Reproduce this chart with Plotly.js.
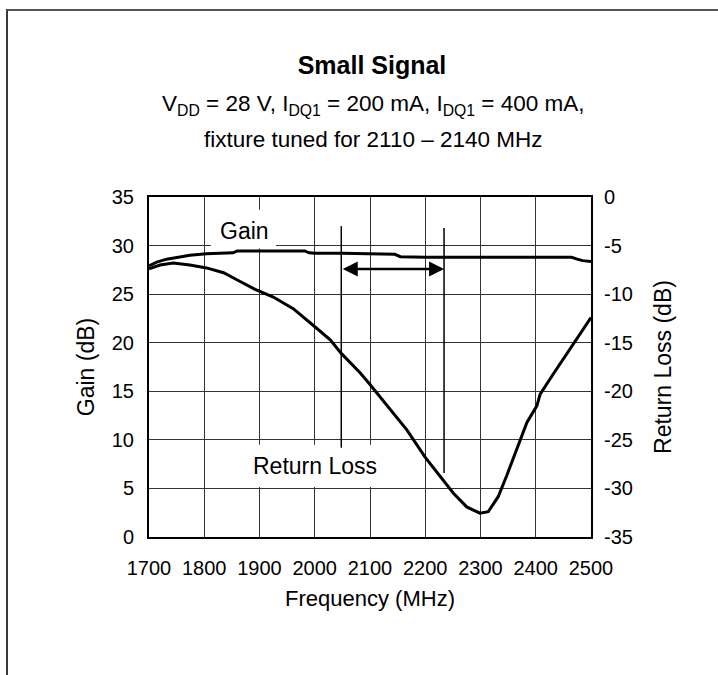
<!DOCTYPE html>
<html>
<head>
<meta charset="utf-8">
<script src="https://cdn.plot.ly/plotly-3.0.1.min.js"></script>
<style>
  html, body { margin: 0; padding: 0; background: #fff; overflow: hidden; }
  #wrap { position: relative; width: 718px; height: 675px; }
  #chart { position: absolute; left: 0; top: 0; width: 718px; height: 675px; }
  #frame { position: absolute; left: 6px; top: 9px; width: 900px; height: 900px;
           border-left: 2px solid #3a3a3a; border-top: 2px solid #555; pointer-events: none; }
</style>
</head>
<body>
<div id="wrap">
  <div id="chart"></div>
  <div id="frame"></div>
</div>
<script>
// ---- data ----
const freqGain = [1700, 1714, 1732, 1756, 1774, 1804, 1830, 1852, 1860, 1900, 1950, 1982, 1990, 2000, 2050, 2100, 2145, 2155, 2200, 2300, 2400, 2465, 2475, 2485, 2500];
const gainDb   = [27.9, 28.3, 28.6, 28.8, 29.0, 29.15, 29.2, 29.25, 29.45, 29.45, 29.45, 29.45, 29.25, 29.2, 29.2, 29.15, 29.1, 28.85, 28.8, 28.8, 28.8, 28.8, 28.6, 28.45, 28.35];

const freqRL = [1700, 1720, 1744, 1774, 1804, 1835, 1865, 1892, 1925, 1961, 1997, 2028, 2048, 2082, 2100, 2136, 2167, 2200, 2227, 2251, 2275, 2299, 2314, 2332, 2347, 2371, 2384, 2402, 2408, 2432, 2450, 2468, 2480, 2500];
const returnLossDb = [-7.4, -7.0, -6.8, -7.0, -7.3, -7.8, -8.7, -9.5, -10.3, -11.5, -13.2, -14.7, -16.1, -18.1, -19.3, -21.8, -24.0, -26.8, -28.75, -30.5, -31.9, -32.55, -32.4, -30.85, -28.75, -25.2, -23.2, -21.5, -20.3, -18.2, -16.7, -15.1, -14.2, -12.4];

// band marker lines (frequency, top gain, bottom gain) and arrow level
const markerFreq   = [2048, 2234];
const markerTop    = [32.0, 31.8];
const markerBottom = [9.2, 6.6];
const arrowLevel   = 27.6;

const xTicks  = [1700, 1800, 1900, 2000, 2100, 2200, 2300, 2400, 2500];
const yTicks  = [0, 5, 10, 15, 20, 25, 30, 35];
const y2Ticks = [-35, -30, -25, -20, -15, -10, -5, 0];

const FONT = "Liberation Sans, Arial, Helvetica, sans-serif";

const traces = [
  { x: freqGain, y: gainDb, type: 'scatter', mode: 'lines', name: 'Gain',
    line: { color: '#000', width: 3 }, hoverinfo: 'x+y' },
  { x: freqRL, y: returnLossDb, type: 'scatter', mode: 'lines', name: 'Return Loss',
    yaxis: 'y2', line: { color: '#000', width: 3 }, hoverinfo: 'x+y' }
];
markerFreq.forEach((f, i) => {
  traces.push({ x: [f, f], y: [markerTop[i], markerBottom[i]], type: 'scatter', mode: 'lines',
    line: { color: '#000', width: 1.5 }, hoverinfo: 'skip', showlegend: false });
});

const axisCommon = {
  showline: true, linecolor: '#000', linewidth: 2, mirror: true,
  ticks: '', zeroline: false,
  tickfont: { family: FONT, size: 20, color: '#000' }
};

const layout = {
  width: 718, height: 675,
  margin: { l: 149, r: 127, t: 197, b: 138 },
  paper_bgcolor: '#fff', plot_bgcolor: '#fff',
  showlegend: false,
  font: { family: FONT, color: '#000' },
  title: { text: '<b>Small Signal</b>', x: 372 / 718, xanchor: 'center', xref: 'container',
           y: 1 - 65 / 675, yanchor: 'middle', yref: 'container',
           font: { family: FONT, size: 25, color: '#000' } },
  xaxis: Object.assign({}, axisCommon, {
    range: [1700, 2500], tickvals: xTicks, ticktext: xTicks.map(String),
    showgrid: true, gridcolor: '#333', gridwidth: 1,
    ticklabelstandoff: 12,
    title: { text: 'Frequency (MHz)', standoff: 13, font: { family: FONT, size: 22, color: '#000' } }
  }),
  yaxis: Object.assign({}, axisCommon, {
    range: [0, 35], tickvals: yTicks, ticktext: yTicks.map(String),
    showgrid: true, gridcolor: '#333', gridwidth: 1,
    ticklabelstandoff: 9,
    title: { text: 'Gain (dB)', standoff: 11, font: { family: FONT, size: 23, color: '#000' } }
  }),
  yaxis2: Object.assign({}, axisCommon, {
    overlaying: 'y', side: 'right',
    range: [-35, 0], tickvals: y2Ticks, ticktext: y2Ticks.map(String),
    showgrid: false, showline: false,
    ticklabelstandoff: 12,
    title: { text: 'Return Loss (dB)', standoff: 22, font: { family: FONT, size: 23, color: '#000' } }
  }),
  shapes: [
    { type: 'rect', xref: 'x', yref: 'y', layer: 'between',
      x0: 1812, x1: 1930, y0: 29.7, y1: 33.7, fillcolor: '#fff', line: { width: 0 } },
    { type: 'rect', xref: 'x', yref: 'y', layer: 'between',
      x0: 1878, x1: 2130, y0: 5.15, y1: 9.5, fillcolor: '#fff', line: { width: 0 } }
  ],
  annotations: [
    { text: 'V<sub>DD</sub> = 28 V, I<sub>DQ1</sub> = 200 mA, I<sub>DQ1</sub> = 400 mA,',
      xref: 'paper', yref: 'paper', x: (373 - 149) / 442, y: (537 - 105.3) / 340,
      xanchor: 'center', yanchor: 'middle', showarrow: false,
      font: { family: FONT, size: 22.5, color: '#000' } },
    { text: 'fixture tuned for 2110 \u2013 2140 MHz',
      xref: 'paper', yref: 'paper', x: (373 - 149) / 442, y: (537 - 139.3) / 340,
      xanchor: 'center', yanchor: 'middle', showarrow: false,
      font: { family: FONT, size: 22.5, color: '#000' } },
    { text: 'Gain', xref: 'x', yref: 'y', x: 1872, y: 31.5,
      xanchor: 'center', yanchor: 'middle', showarrow: false,
      font: { family: FONT, size: 23, color: '#000' } },
    { text: 'Return Loss', xref: 'x', yref: 'y', x: 2001, y: 7.3,
      xanchor: 'center', yanchor: 'middle', showarrow: false,
      font: { family: FONT, size: 23, color: '#000' } },
    { text: '', xref: 'x', yref: 'y', x: markerFreq[1], y: arrowLevel,
      axref: 'x', ayref: 'y', ax: markerFreq[0], ay: arrowLevel,
      showarrow: true, arrowside: 'end+start', arrowhead: 2, arrowsize: 1.2,
      arrowwidth: 2.5, arrowcolor: '#000', standoff: 0, startstandoff: 0 }
  ]
};

Plotly.newPlot('chart', traces, layout, { displayModeBar: false, staticPlot: true });
</script>
</body>
</html>
